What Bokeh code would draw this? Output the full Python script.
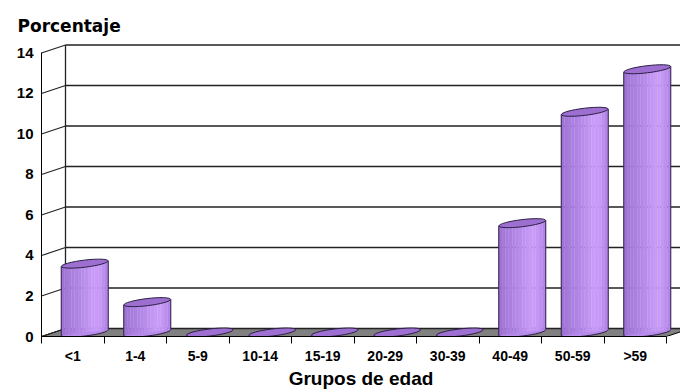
import math

from bokeh.plotting import figure
from bokeh.models import FixedTicker, Range1d, ColumnDataSource
from bokeh.embed import file_html
from bokeh.resources import INLINE

# Age groups and share of cases (%)
groups = ["<1", "1-4", "5-9", "10-14", "15-19", "20-29", "30-39", "40-49", "50-59", ">59"]
percent = [3.4, 1.5, 0.0, 0.0, 0.0, 0.0, 0.0, 5.4, 10.9, 13.0]
y_ticks = [0, 2, 4, 6, 8, 10, 12, 14]

# 3-D box geometry (data units): depth offset of the back wall
DX, DY = 0.384, 0.395
X_END = 10.224
Y_END = 14.617
BAR_W = 0.752
ELL_H = 0.35
ANGLE = 0.12
PX_PER_X = 62.5
PX_PER_Y = 20.25

OUTLINE = "#2d1f45"
TOP_FILL = "#9c6fd0"

p = figure(width=680, height=391,
           x_range=Range1d(0, X_END), y_range=Range1d(0, Y_END),
           output_backend="svg", toolbar_location=None,
           min_border_left=41, min_border_right=0,
           min_border_top=40, min_border_bottom=50)
p.outline_line_color = None
p.grid.visible = False
p.background_fill_color = "white"

# floor
p.patch([0, 10, 10 + DX, DX], [0, 0, DY, DY],
        fill_color="#808080", line_color="black", line_width=1)

# back wall gridlines and side-wall connectors
n = len(y_ticks)
p.segment(x0=[DX] * n, y0=[v + DY for v in y_ticks],
          x1=[X_END] * n, y1=[v + DY for v in y_ticks],
          line_color="#222222", line_width=1.3)
p.segment(x0=[0] * n, y0=y_ticks, x1=[DX] * n, y1=[v + DY for v in y_ticks],
          line_color="#222222", line_width=1.3)
p.segment(x0=[DX], y0=[DY], x1=[DX], y1=[y_ticks[-1] + DY],
          line_color="#222222", line_width=1.3)


def hex2rgb(h):
    return tuple(int(h[i:i + 2], 16) for i in (1, 3, 5))


stops = [(0.0, "#9b70d2"), (0.15, "#a67bdb"), (0.45, "#b68be9"),
         (0.7, "#c99df8"), (0.85, "#c497f4"), (1.0, "#ad80e2")]


def shade(t):
    for (t0, c0), (t1, c1) in zip(stops[:-1], stops[1:]):
        if t0 <= t <= t1:
            f = (t - t0) / (t1 - t0)
            a, b = hex2rgb(c0), hex2rgb(c1)
            return "#%02x%02x%02x" % tuple(round(a[k] + (b[k] - a[k]) * f) for k in range(3))
    return stops[-1][1]


N_STRIPS = 14
base = DY / 2
# vertical rise of the tilted ellipse ends, in y data units
tilt = (BAR_W * PX_PER_X / 2) * math.sin(ANGLE) / PX_PER_Y

strips = dict(left=[], right=[], bottom=[], top=[], color=[])
bot = dict(x=[], y=[])
tops = dict(x=[], y=[])
edges = dict(x0=[], y0=[], x1=[], y1=[])
for i, v in enumerate(percent):
    cx = i + 0.5 + DX / 2
    top = base + v
    tops["x"].append(cx)
    tops["y"].append(top)
    if v <= 0:
        continue
    bot["x"].append(cx)
    bot["y"].append(base)
    for k in range(N_STRIPS):
        t = (k + 0.5) / N_STRIPS
        l = cx - BAR_W / 2 + k * BAR_W / N_STRIPS
        strips["left"].append(l)
        strips["right"].append(l + BAR_W / N_STRIPS)
        strips["bottom"].append(base + tilt * (2 * t - 1))
        strips["top"].append(top + tilt * (2 * t - 1))
        strips["color"].append(shade(t))
    for sgn in (-1, 1):
        edges["x0"].append(cx + sgn * BAR_W / 2)
        edges["x1"].append(cx + sgn * BAR_W / 2)
        edges["y0"].append(base + sgn * tilt)
        edges["y1"].append(top + sgn * tilt)

p.ellipse(x="x", y="y", width=BAR_W, height=ELL_H, angle=ANGLE,
          source=ColumnDataSource(bot), fill_color="#b68be9",
          line_color=OUTLINE, line_width=1)
p.quad(left="left", right="right", bottom="bottom", top="top",
       fill_color="color", line_color="color", line_width=0.3,
       source=ColumnDataSource(strips))
p.segment(x0="x0", y0="y0", x1="x1", y1="y1", source=ColumnDataSource(edges),
          line_color=OUTLINE, line_width=1)
p.ellipse(x="x", y="y", width=BAR_W, height=ELL_H, angle=ANGLE,
          source=ColumnDataSource(tops), fill_color=TOP_FILL,
          line_color=OUTLINE, line_width=1)

# x axis: labels at category centres, tick marks at boundaries
xa = p.xaxis[0]
xa.ticker = FixedTicker(ticks=[i + 0.5 for i in range(len(groups))],
                        minor_ticks=list(range(len(groups) + 1)))
xa.major_label_overrides = {i + 0.5: g for i, g in enumerate(groups)}
xa.bounds = (0, 10)
xa.major_tick_out = 0
xa.major_tick_in = 0
xa.minor_tick_out = 7
xa.minor_tick_in = 0
xa.minor_tick_line_color = "black"
xa.axis_line_color = "black"
xa.major_label_standoff = 4
xa.major_label_text_font = "Liberation Sans"
xa.major_label_text_font_style = "bold"
xa.major_label_text_font_size = "14px"
xa.major_label_text_color = "black"
xa.axis_label = "Grupos de edad"
xa.axis_label_text_font = "Liberation Sans"
xa.axis_label_text_font_style = "bold"
xa.axis_label_text_font_size = "19px"
xa.axis_label_text_color = "black"
xa.axis_label_standoff = 1

ya = p.yaxis[0]
ya.ticker = FixedTicker(ticks=y_ticks)
ya.bounds = (0, 14)
ya.major_tick_out = 0
ya.major_tick_in = 0
ya.minor_tick_out = 0
ya.minor_tick_in = 0
ya.axis_line_color = "black"
ya.major_label_standoff = 8
ya.major_label_text_font = "Liberation Sans"
ya.major_label_text_font_style = "bold"
ya.major_label_text_font_size = "15px"
ya.major_label_text_color = "black"

p.title.text = "Porcentaje"
p.title.text_font = "DejaVu Sans"
p.title.text_font_style = "bold"
p.title.text_font_size = "17px"
p.title.text_color = "black"
p.title.align = "left"
p.title.offset = -24

open("out.html", "w").write(file_html(p, INLINE))
